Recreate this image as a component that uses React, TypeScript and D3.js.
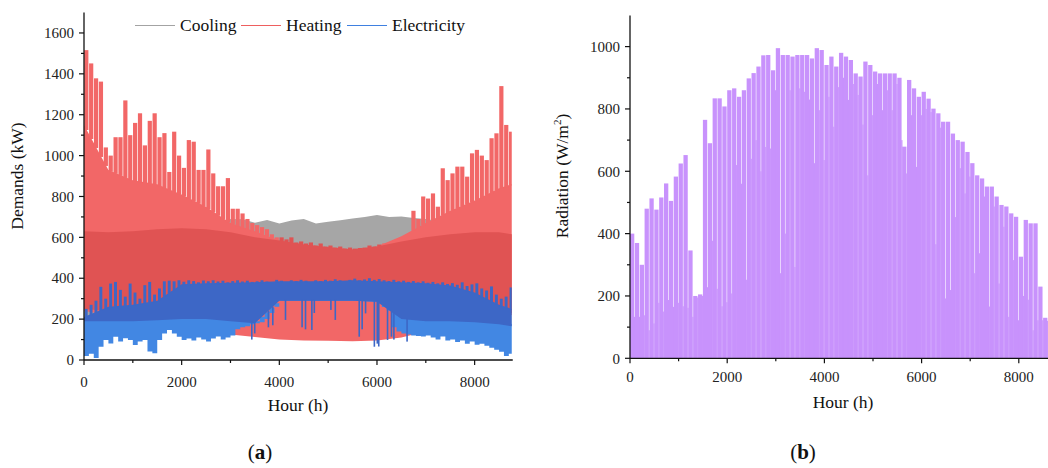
import React from 'react';
import * as d3 from 'd3';

// hourly series are summarised per 100 h bins (index i -> hour i*STEP)
const STEP = 100;
// envelope points (hours) for the smooth bands
const bandHours = [0, 500, 1000, 1500, 2000, 2500, 3000, 3500, 4000, 4500, 5000, 5500, 6000, 6500, 7000, 7500, 8000, 8500, 8760];

// ---- (a) demands, kW ----
const heatMax = [
  1516, 1451, 1378, 1362, 1040, 1000, 1090, 1090, 1270, 1100,
  1160, 1207, 1050, 1170, 1207, 1090, 1110, 920, 1117, 1000,
  940, 1076, 1068, 930, 930, 1030, 913, 850, 850, 890,
  740, 740, 717, 690, 670, 660, 650, 640, 615, 600,
  600, 590, 600, 575, 580, 570, 575, 560, 570, 555,
  560, 550, 555, 545, 550, 545, 548, 550, 560, 555,
  565, 570, 575, 585, 590, 600, 610, 730, 690, 800,
  790, 815, 750, 938, 880, 913, 946, 946, 897, 1011,
  1028, 1000, 978, 1085, 1109, 1340, 1150, 1117,
];
const heatMid = [1150, 930, 880, 860, 810, 750, 670, 630, 585, 565, 552, 540, 555, 605, 670, 730, 780, 840, 860];
const heatCoreHi = [630, 625, 630, 640, 645, 640, 625, 600, 585, 565, 552, 540, 555, 580, 600, 615, 625, 625, 615];
const heatCoreLo = [250, 240, 230, 230, 230, 240, 250, 270, 300, 300, 300, 300, 300, 280, 250, 240, 230, 230, 230];
const heatMin = [240, 220, 200, 180, 160, 140, 125, 112, 100, 95, 94, 92, 95, 110, 140, 170, 190, 210, 220];

const coolHours = d3.range(0, 8751, 250);
const coolTop = [
  250, 245, 240, 240, 240, 245, 250, 280, 350, 450, 550, 640,
  690, 688, 672, 685, 668, 682, 690, 668, 676, 684, 692, 700,
  710, 700, 702, 695, 690, 680, 520, 400, 320, 280, 260, 250,
];
const coolMin = [180, 175, 170, 170, 180, 200, 250, 300, 350, 380, 400, 400, 400, 380, 340, 280, 220, 190, 180];

const elecTop = [
  250, 270, 290, 358, 300, 374, 382, 343, 310, 374,
  330, 300, 366, 382, 320, 350, 385,
  388, 385, 390, 383, 390, 386, 380, 389, 385, 390,
  384, 388, 380, 386, 390, 384, 388, 382, 385, 390,
  384, 380, 392, 388, 385, 390, 386, 392, 388, 384,
  390, 386, 392, 388, 395, 390, 386, 392, 398, 390,
  394, 400, 392, 396, 390, 386, 392, 385, 388, 382,
  386, 380, 385, 378, 382, 375, 380, 372, 376, 368,
  380, 362, 370, 375, 350, 340, 360, 320, 300, 310, 355,
];
const elecBandHi = [210, 260, 270, 290, 370, 375, 378, 380, 385, 385, 385, 390, 385, 380, 375, 365, 330, 270, 250];
const elecBandLo = [190, 190, 190, 195, 200, 200, 190, 180, 290, 290, 290, 290, 285, 200, 190, 190, 185, 175, 165];
const elecBottom = [
  20, 30, 10, 65, 98, 81, 114, 90, 106, 98,
  73, 90, 98, 41, 33, 98, 130, 147, 130, 114,
  98, 105, 95, 110, 100, 90, 105, 115, 100, 110,
  120, 150, 160, 165, 175, 180, 185, 200, 230, 260,
  300, 300, 300, 300, 300, 300, 300, 300, 300, 300,
  300, 300, 300, 300, 300, 300, 300, 300, 300, 300,
  300, 300, 290, 160, 140, 130, 125, 120, 118, 115,
  120, 110, 100, 115, 95, 100, 88, 95, 80, 90,
  75, 80, 70, 60, 50, 40, 20, 30,
];
const elecDipHours = [3420, 3480, 3760, 3850, 4110, 4450, 4520, 4650, 4700, 5040, 5130, 5620, 5680, 5750, 5930, 5990, 6020, 6200, 6280, 6330, 6600];
const elecDipValues = [100, 130, 160, 170, 196, 160, 150, 147, 230, 245, 196, 114, 150, 228, 65, 80, 66, 98, 114, 100, 90];

// ---- (b) radiation, W/m2 ----
const radPeak = [
  400, 370, 300, 480, 513, 477, 516, 561, 505, 583,
  625, 652, 346, 200, 205, 765, 690, 834, 834, 808,
  860, 866, 839, 860, 898, 915, 936, 972, 973, 924,
  995, 973, 973, 968, 973, 973, 973, 962, 995, 989,
  941, 968, 936, 980, 968, 957, 914, 904, 952, 941,
  920, 914, 914, 914, 914, 900, 679, 893, 866, 839,
  855, 833, 801, 786, 759, 759, 721, 700, 695, 662,
  626, 587, 577, 551, 551, 519, 492, 487, 465, 454,
  326, 444, 433, 433, 230, 130, 125, 120,
];
const radDip = [
  133, 133, 138, 90, 112, 178, 150, 187, 165, 178,
  167, 162, 133, 195, 200, 228, 377, 223, 167, 180,
  208, 620, 560, 252, 640, 700, 600, 678, 673, 860,
  273, 400, 860, 293, 866, 855, 830, 626, 796, 636,
  839, 743, 870, 900, 829, 880, 845, 750, 587, 780,
  880, 796, 860, 796, 880, 700, 593, 780, 614, 780,
  800, 790, 366, 740, 192, 219, 453, 610, 529, 583,
  273, 337, 519, 166, 487, 240, 422, 133, 315, 122,
  200, 188, 90, 122, 122, 120, 110, 100,
];

const legendItems = ['Cooling', 'Heating', 'Electricity'];
const legendColors = ['#a3a3a3', '#ee5f5f', '#3f80e0'];

const FONT = "'Liberation Serif', 'Times New Roman', serif";
const C = {
  gray: '#a6a6a6',
  redLight: '#f26767',
  redDark: '#e05353',
  blueLight: '#4287e3',
  blueDark: '#3d67c6',
  purple: '#c892fc',
};

const W = 1048;
const H = 468;

function Axes({ x, y, xMajor, xMinor, yMajor, yMinor, xEnd, labelGap }: any) {
  const [x0] = x.range();
  const [y0, y1] = y.range();
  return (
    <g style={{ fontFamily: FONT }} fill="#222">
      <line x1={x0} x2={xEnd} y1={y0} y2={y0} stroke="#111" strokeWidth={1.3} />
      <line x1={x0} x2={x0} y1={y0} y2={y1} stroke="#111" strokeWidth={1.3} />
      {xMajor.map((t: number) => (
        <g key={'xm' + t}>
          <line x1={x(t)} x2={x(t)} y1={y0} y2={y0 + 5} stroke="#111" strokeWidth={1.2} />
          <text x={x(t)} y={y0 + labelGap} textAnchor="middle" fontSize={15}>{t}</text>
        </g>
      ))}
      {xMinor.map((t: number) => (
        <line key={'xn' + t} x1={x(t)} x2={x(t)} y1={y0} y2={y0 + 3} stroke="#111" strokeWidth={1.2} />
      ))}
      {yMajor.map((t: number) => (
        <g key={'ym' + t}>
          <line x1={x0 - 5} x2={x0} y1={y(t)} y2={y(t)} stroke="#111" strokeWidth={1.2} />
          <text x={x0 - 10} y={y(t)} dy="0.35em" textAnchor="end" fontSize={15}>{t}</text>
        </g>
      ))}
      {yMinor.map((t: number) => (
        <line key={'yn' + t} x1={x0 - 3} x2={x0} y1={y(t)} y2={y(t)} stroke="#111" strokeWidth={1.2} />
      ))}
    </g>
  );
}

export default function App() {
  // panel (a)
  const xA = d3.scaleLinear().domain([0, 8760]).range([84, 84 + 8760 * 0.04883]);
  const yA = d3.scaleLinear().domain([0, 1700]).range([360, 360 - 1700 * 0.2044]);
  // panel (b)
  const xB = d3.scaleLinear().domain([0, 8760]).range([630, 630 + 8760 * 0.0486]);
  const yB = d3.scaleLinear().domain([0, 1100]).range([358.3, 358.3 - 1100 * 0.3117]);

  const heatMidAt = d3.scaleLinear().domain(bandHours).range(heatMid);
  const heatCoreAt = d3.scaleLinear().domain(bandHours).range(heatCoreHi);
  const elecLoAt = d3.scaleLinear().domain(bandHours).range(elecBandLo);
  const elecHiAt = d3.scaleLinear().domain(bandHours).range(elecBandHi);
  const coolMinAt = d3.scaleLinear().domain(bandHours).range(coolMin);

  const band = (lo: number[], hi: number[]) =>
    d3.area<number>()
      .x((h) => xA(h))
      .y0((_, i) => yA(lo[i]))
      .y1((_, i) => yA(hi[i]))(bandHours) || '';

  const coolArea = d3.area<number>()
    .x((h) => xA(h))
    .y0((h) => yA(coolMinAt(h)))
    .y1((_, i) => yA(coolTop[i]))(coolHours) || '';

  const bins = d3.range(heatMax.length);
  const binEdges = d3.range(heatMax.length + 1);
  const hourOf = (i: number) => Math.min(i * STEP, 8760);
  const clampH = (h: number) => Math.min(h, 8760);

  // light-blue floor as a stepped band up to the dark band
  const elecLight = d3.area<number>()
    .curve(d3.curveStepAfter)
    .x((i) => xA(hourOf(i)))
    .y0((i) => {
      const j = Math.min(i, elecBottom.length - 1);
      const top = elecLoAt(clampH(hourOf(j) + 50));
      return yA(Math.min(elecBottom[j], top));
    })
    .y1((i) => yA(elecLoAt(hourOf(i))) - 2)(binEdges) || '';

  return (
    <svg width={W} height={H} style={{ position: 'absolute', left: 0, top: 0, background: '#fff' }}>
      {/* ---------- (a) ---------- */}
      <path d={coolArea} fill={C.gray} />
      <path d={band(heatMin, heatMid)} fill={C.redLight} />
      {bins.map((i) => {
        const h = i * STEP;
        const base = heatMidAt(clampH(h + 45));
        if (heatMax[i] <= base) return null;
        const summer = heatMidAt(h) - heatCoreAt(h) < 5;
        return (
          <rect key={'hs' + i} x={xA(h + 4)} width={xA(clampH(h + 90)) - xA(h + 4)}
            y={yA(heatMax[i])} height={yA(base) - yA(heatMax[i]) + 1}
            fill={summer ? C.redDark : C.redLight} />
        );
      })}
      <path d={band(heatCoreLo, heatCoreHi)} fill={C.redDark} />
      <path d={elecLight} fill={C.blueLight} />
      <path d={band(elecBandLo, elecBandHi)} fill={C.blueDark} />
      {bins.map((i) => {
        const h = i * STEP;
        const base = elecHiAt(clampH(h + 50));
        if (elecTop[i] <= base) return null;
        return (
          <rect key={'et' + i} x={xA(h + 15)} width={xA(clampH(h + 75)) - xA(h + 15)}
            y={yA(elecTop[i])} height={yA(base) - yA(elecTop[i]) + 1} fill={C.blueDark} />
        );
      })}
      {elecDipHours.map((h, i) => (
        <rect key={'ed' + i} x={xA(h)} width={1.6}
          y={yA(elecLoAt(h)) - 1} height={yA(elecDipValues[i]) - yA(elecLoAt(h)) + 1} fill={C.blueDark} />
      ))}

      <Axes x={xA} y={yA} xEnd={xA(8760) + 1}
        xMajor={[0, 2000, 4000, 6000, 8000]} xMinor={[1000, 3000, 5000, 7000]}
        yMajor={d3.range(0, 1601, 200)} yMinor={d3.range(100, 1601, 200)} labelGap={27} />

      {/* legend */}
      <g style={{ fontFamily: FONT }} fontSize={17.5}>
        {legendItems.map((name, i) => {
          const lx = [135, 241, 347][i];
          return (
            <g key={name}>
              <line x1={lx} x2={lx + 40} y1={25.5} y2={25.5} stroke={legendColors[i]}
                strokeWidth={1} shapeRendering="crispEdges" />
              <text x={lx + 45} y={31} fill="#111">{name}</text>
            </g>
          );
        })}
      </g>

      <g style={{ fontFamily: FONT }} fill="#111">
        <text transform="translate(23,176) rotate(-90)" textAnchor="middle" fontSize={17.5}>Demands (kW)</text>
        <text x={298} y={411} textAnchor="middle" fontSize={17.5}>Hour (h)</text>
        <text x={260} y={459} textAnchor="middle" fontSize={21}>(<tspan fontWeight="bold">a</tspan>)</text>
      </g>

      {/* ---------- (b) ---------- */}
      {radPeak.map((v, i) => {
        const h = i * STEP;
        return (
          <g key={'r' + i}>
            <rect x={xB(h)} width={xB(h + 82) - xB(h) + 0.3} y={yB(v)} height={yB(0) - yB(v)} fill={C.purple} />
            <rect x={xB(h + 82)} width={xB(h + STEP) - xB(h + 82) + 0.3} y={yB(radDip[i])}
              height={yB(0) - yB(radDip[i])} fill={C.purple} />
          </g>
        );
      })}

      <Axes x={xB} y={yB} xEnd={W}
        xMajor={[0, 2000, 4000, 6000, 8000]} xMinor={[1000, 3000, 5000, 7000]}
        yMajor={d3.range(0, 1001, 200)} yMinor={d3.range(100, 1001, 200)} labelGap={24} />

      <g style={{ fontFamily: FONT }} fill="#111">
        <text transform="translate(568,176) rotate(-90)" textAnchor="middle" fontSize={17.5}>
          Radiation (W/m<tspan dy={-7} fontSize={11}>2</tspan><tspan dy={7}>)</tspan>
        </text>
        <text x={843} y={408} textAnchor="middle" fontSize={17.5}>Hour (h)</text>
        <text x={803} y={459} textAnchor="middle" fontSize={21}>(<tspan fontWeight="bold">b</tspan>)</text>
      </g>
    </svg>
  );
}
